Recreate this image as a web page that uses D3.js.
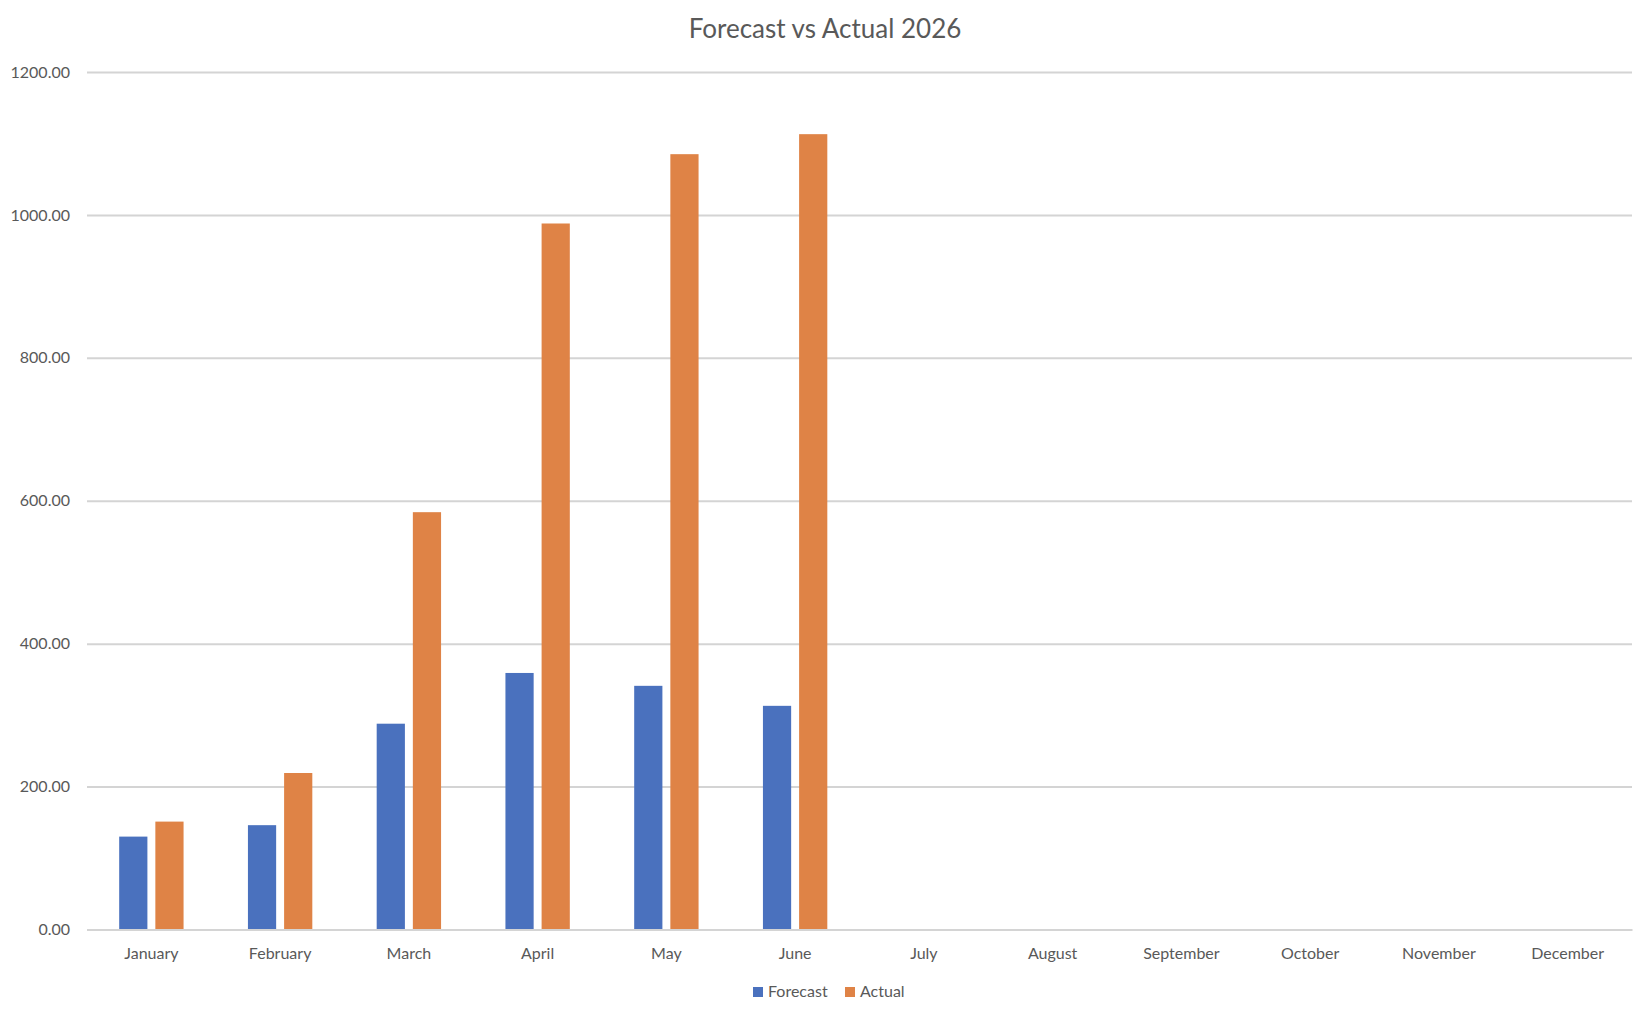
<!DOCTYPE html>
<html>
<head>
<meta charset="utf-8">
<script src="https://cdn.jsdelivr.net/npm/d3@7"></script>
<style>
  html, body { margin: 0; padding: 0; background: #fff; overflow: hidden; }
  svg { display: block; }
  svg text { font-family: Lato, "Open Sans", sans-serif; fill: #595959; }
</style>
</head>
<body>
<svg id="chart" width="1650" height="1018"></svg>
<script>
const months = ['January', 'February', 'March', 'April', 'May', 'June',
    'July', 'August', 'September', 'October', 'November', 'December'];
const seriesNames = ['Forecast', 'Actual'];
// values, second half of the year still empty
const forecast = [130, 146, 288, 359, 341, 313];
const actual = [151, 219, 584, 988, 1085, 1113];
const yTicks = [0, 200, 400, 600, 800, 1000, 1200];
const colors = ['#4a71be', '#df8346'];

const svg = d3.select('#chart');
const width = +svg.attr('width');

const margin = { top: 72, left: 87, right: 18, bottom: 88 };
const innerWidth = width - margin.left - margin.right;
const innerHeight = 929.5 - margin.top;

const data = months.map((m, i) => ({
    month: m,
    Forecast: forecast[i],
    Actual: actual[i]
}));

const g = svg.append('g')
    .attr('transform', `translate(${margin.left}, ${margin.top})`);

const x0 = d3.scaleBand()
    .domain(months)
    .range([0, innerWidth])
    .padding(0);

const bw = x0.bandwidth();
const x1 = d3.scaleBand()
    .domain(seriesNames)
    .range([bw * 0.25, bw * 0.75])
    .paddingInner(0.22)
    .paddingOuter(0);

const yScale = d3.scaleLinear()
    .domain([0, 1200])
    .range([innerHeight, 0]);

// gridlines + y labels
const yAxis = d3.axisLeft(yScale)
    .tickValues(yTicks)
    .tickSize(-innerWidth)
    .tickPadding(17)
    .tickFormat(d3.format('.2f'));

const yAxisG = g.append('g').call(yAxis);
yAxisG.select('.domain').remove();
yAxisG.selectAll('line')
    .attr('stroke', '#d4d4d4')
    .attr('stroke-width', 2);
yAxisG.selectAll('text')
    .style('font-size', '16px')
    .attr('fill', '#595959');

// bars
const groups = g.selectAll('.month').data(data)
    .enter().append('g')
    .attr('class', 'month')
    .attr('transform', d => `translate(${x0(d.month)}, 0)`);

groups.selectAll('rect')
    .data(d => seriesNames
        .filter(s => d[s] !== undefined)
        .map(s => ({ key: s, value: d[s] })))
    .enter().append('rect')
    .attr('x', d => x1(d.key))
    .attr('width', x1.bandwidth())
    .attr('y', d => yScale(d.value))
    .attr('height', d => innerHeight - yScale(d.value))
    .attr('fill', d => colors[seriesNames.indexOf(d.key)]);

// x axis
const xAxis = d3.axisBottom(x0)
    .tickSize(0)
    .tickPadding(18);

const xAxisG = g.append('g')
    .call(xAxis)
    .attr('transform', `translate(0, ${innerHeight})`);

xAxisG.select('.domain')
    .attr('stroke', '#d4d4d4')
    .attr('stroke-width', 2);
xAxisG.selectAll('text')
    .style('font-size', '16px')
    .attr('fill', '#595959');

// title
svg.append('text')
    .attr('x', width / 2)
    .attr('y', 38)
    .attr('text-anchor', 'middle')
    .style('font-size', '26px')
    .text('Forecast vs Actual 2026');

// legend
const legend = svg.append('g')
    .attr('transform', 'translate(753, 987)');

const legendX = [0, 92];
seriesNames.forEach((s, i) => {
    const item = legend.append('g')
        .attr('transform', `translate(${legendX[i]}, 0)`);
    item.append('rect')
        .attr('width', 10)
        .attr('height', 10)
        .attr('fill', colors[i]);
    item.append('text')
        .attr('x', 15)
        .attr('y', 10)
        .style('font-size', '16px')
        .text(s);
});
</script>
</body>
</html>
